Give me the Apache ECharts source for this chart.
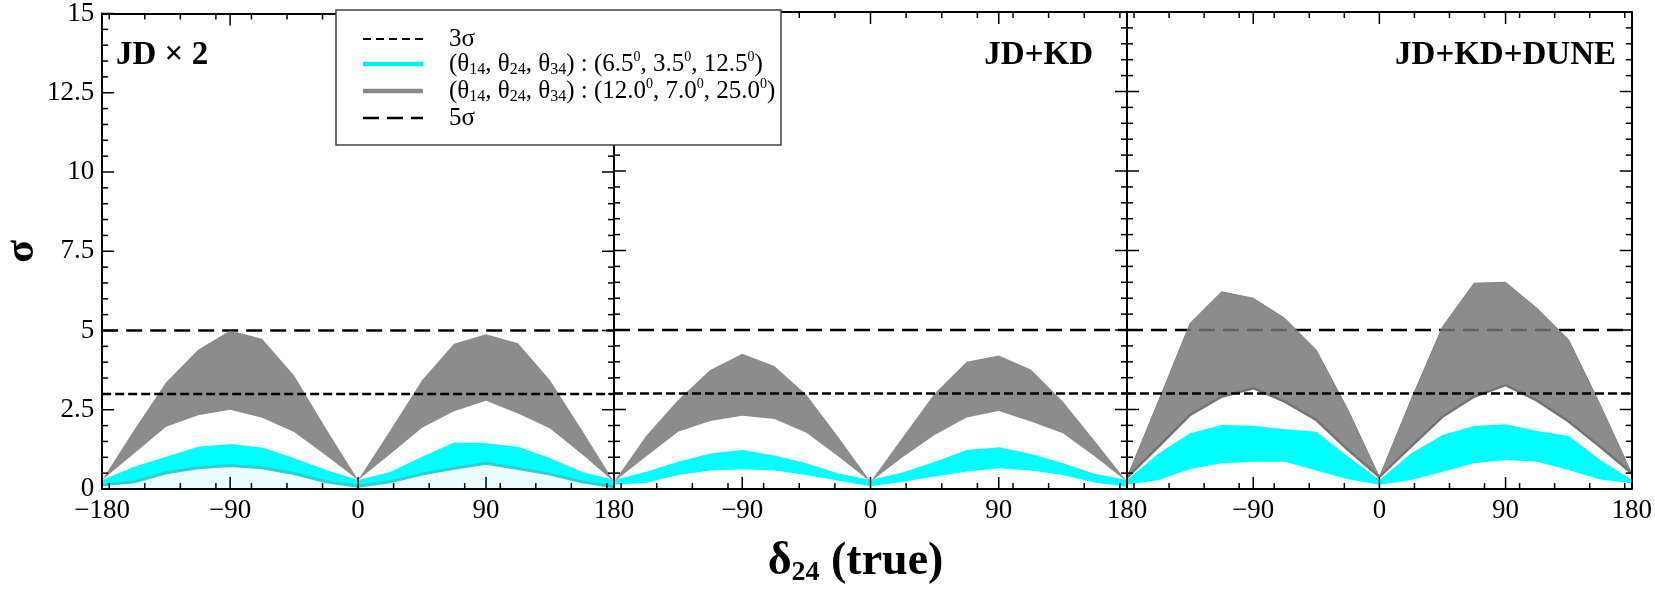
<!DOCTYPE html>
<html>
<head>
<meta charset="utf-8">
<script src="https://cdn.jsdelivr.net/npm/echarts@6/dist/echarts.min.js"></script>
<style>
  html, body { margin: 0; background: #fff; }
  #main { width: 1655px; height: 592px; }
</style>
</head>
<body>
<div id="main"></div>
<script>
const FONT = "'Liberation Serif', 'Times New Roman', serif"

// true delta_24 grid (degrees)
const delta = [-180, -157.5, -135, -112.5, -90, -67.5, -45, -22.5, 0, 22.5, 45, 67.5, 90, 112.5, 135, 157.5, 180]

// JD x 2
const jd2GrayHi = [0.28, 1.86, 3.37, 4.39, 5.0, 4.74, 3.58, 1.9, 0.28, 1.84, 3.43, 4.58, 4.88, 4.6, 3.43, 1.85, 0.23]
const jd2GrayLo = [0.28, 1.12, 1.96, 2.33, 2.5, 2.25, 1.8, 1.06, 0.28, 1.1, 1.93, 2.45, 2.78, 2.38, 1.91, 1.1, 0.23]
const jd2CyanHi = [0.28, 0.7, 1.02, 1.33, 1.42, 1.31, 0.97, 0.6, 0.28, 0.54, 1.02, 1.47, 1.44, 1.33, 0.97, 0.54, 0.28]
const jd2CyanLo = [0.13, 0.23, 0.51, 0.67, 0.74, 0.67, 0.49, 0.23, 0.09, 0.23, 0.47, 0.65, 0.81, 0.65, 0.47, 0.23, 0.07]

// JD+KD
const jdkdGrayHi = [0.23, 1.67, 2.8, 3.74, 4.25, 3.87, 2.96, 1.63, 0.23, 1.62, 3.0, 4.0, 4.2, 3.76, 2.75, 1.5, 0.23]
const jdkdGrayLo = [0.23, 1.02, 1.8, 2.14, 2.3, 2.2, 1.77, 1.02, 0.23, 1.0, 1.7, 2.25, 2.45, 2.12, 1.75, 1.02, 0.23]
const jdkdCyanHi = [0.28, 0.54, 0.86, 1.12, 1.23, 1.05, 0.81, 0.49, 0.28, 0.52, 0.86, 1.23, 1.31, 1.1, 0.81, 0.47, 0.28]
const jdkdCyanLo = [0.13, 0.2, 0.44, 0.58, 0.62, 0.58, 0.44, 0.26, 0.09, 0.23, 0.39, 0.55, 0.65, 0.58, 0.44, 0.2, 0.07]

// JD+KD+DUNE
const duneGrayHi = [0.36, 2.77, 5.21, 6.2, 6.0, 5.37, 4.37, 2.5, 0.38, 2.8, 5.1, 6.47, 6.5, 5.68, 4.69, 2.65, 0.49]
const duneGrayLo = [0.36, 1.33, 2.33, 2.9, 3.17, 2.75, 2.17, 1.23, 0.38, 1.33, 2.27, 2.9, 3.27, 2.78, 2.12, 1.33, 0.49]
const duneCyanHi = [0.28, 1.12, 1.75, 2.01, 1.99, 1.88, 1.8, 1.02, 0.28, 1.12, 1.7, 1.98, 2.04, 1.82, 1.67, 0.91, 0.28]
const duneCyanLo = [0.13, 0.28, 0.63, 0.81, 0.86, 0.86, 0.58, 0.31, 0.13, 0.28, 0.54, 0.81, 0.91, 0.86, 0.6, 0.3, 0.18]

const sigmaLevels = [3, 5]
const xMajorTicks = [-180, -90, 0, 90, 180]
const xMinorTicks = [-175, -150, -125, -100, -75, -50, -25, 25, 50, 75, 100, 125, 150, 175]
const yMax = 15
const yMajorStep = 2.5
const yMinorStep = 0.5
const panelTitles = ['JD × 2', 'JD+KD', 'JD+KD+DUNE']
const legendLabels = [
  '{t|3σ}',
  '{t|(θ}{s|14}{t|, θ}{s|24}{t|, θ}{s|34}{t|) : (6.5}{p|0}{t|, 3.5}{p|0}{t|, 12.5}{p|0}{t|)}',
  '{t|(θ}{s|14}{t|, θ}{s|24}{t|, θ}{s|34}{t|) : (12.0}{p|0}{t|, 7.0}{p|0}{t|, 25.0}{p|0}{t|)}',
  '{t|5σ}'
]

const panelData = [
  { grayHi: jd2GrayHi, grayLo: jd2GrayLo, cyanHi: jd2CyanHi, cyanLo: jd2CyanLo },
  { grayHi: jdkdGrayHi, grayLo: jdkdGrayLo, cyanHi: jdkdCyanHi, cyanLo: jdkdCyanLo },
  { grayHi: duneGrayHi, grayLo: duneGrayLo, cyanHi: duneCyanHi, cyanLo: duneCyanLo }
]

// layout
const panels = [
  { left: 101, width: 513 },
  { left: 614, width: 513 },
  { left: 1127, width: 512 }
]
const TOP = 12
const HEIGHT = 477
const MAJOR_LEN = 12
const MINOR_LEN = 6
const xMin = xMajorTicks[0]
const xMax = xMajorTicks[xMajorTicks.length - 1]

const chart = echarts.init(document.getElementById('main'), null, { renderer: 'canvas' })

const grids = []
const xAxes = []
const yAxes = []
const series = []

const fmtX = v => (v < 0 ? '\u2212' + Math.abs(v) : String(v))
const axisLine = () => ({ show: true, onZero: false, lineStyle: { color: '#000', width: 2 } })

panels.forEach((pn, p) => {
  grids.push({ left: pn.left, top: TOP, width: pn.width, height: HEIGHT })

  xAxes.push({
    gridIndex: p, type: 'value', min: xMin, max: xMax, interval: 90, position: 'bottom', z: 10,
    axisLine: axisLine(), splitLine: { show: false }, axisTick: { show: false },
    axisLabel: {
      color: '#000', fontFamily: FONT, fontSize: 27, margin: 8, formatter: fmtX,
      showMinLabel: p === 0, showMaxLabel: true
    },
    name: p === 1 ? '{d|δ}{s|24}{d| (true)}' : '',
    nameLocation: 'middle', nameGap: 48,
    nameTextStyle: {
      padding: [0, 30, 0, 0],
      rich: {
        d: { fontFamily: FONT, fontSize: 46, fontWeight: 'bold', color: '#000', lineHeight: 50, verticalAlign: 'middle' },
        s: { fontFamily: FONT, fontSize: 28, fontWeight: 'bold', color: '#000', lineHeight: 26, verticalAlign: 'bottom' }
      }
    }
  })
  xAxes.push({
    gridIndex: p, type: 'value', min: xMin, max: xMax, interval: 90, position: 'top', z: 10,
    axisLine: axisLine(), splitLine: { show: false }, axisLabel: { show: false }, axisTick: { show: false }
  })
  yAxes.push({
    gridIndex: p, type: 'value', min: 0, max: yMax, interval: yMajorStep, position: 'left', z: 10,
    axisLine: axisLine(), splitLine: { show: false }, axisTick: { show: false },
    axisLabel: { show: p === 0, color: '#000', fontFamily: FONT, fontSize: 27, margin: 8 },
    name: p === 0 ? 'σ' : '',
    nameLocation: 'middle', nameGap: 58, nameRotate: 90,
    nameTextStyle: { fontFamily: FONT, fontSize: 42, fontWeight: 'bold', color: '#000' }
  })
  yAxes.push({
    gridIndex: p, type: 'value', min: 0, max: yMax, interval: yMajorStep, position: 'right', z: 10,
    axisLine: axisLine(), splitLine: { show: false }, axisLabel: { show: false }, axisTick: { show: false }
  })

  const xi = 2 * p
  const yi = 2 * p
  const d = panelData[p]

  // 5 sigma line (under the grey band)
  series.push({
    type: 'line', name: '5σ', xAxisIndex: xi, yAxisIndex: yi, z: 1, silent: true,
    symbol: 'none', animation: false,
    data: [[xMin, sigmaLevels[1]], [xMax, sigmaLevels[1]]],
    lineStyle: { color: '#000', width: 2.5, type: [16, 8] }
  })

  const band = (lo, hi, fill, z, extra) => ({
    type: 'custom', xAxisIndex: xi, yAxisIndex: yi, z, silent: true, clip: true, animation: false,
    data: delta.map((x, i) => [x, lo[i], hi[i]]),
    encode: { x: 0, y: [1, 2] },
    renderItem(params, api) {
      if (params.dataIndexInside !== 0) return
      const top = []
      const bot = []
      for (let i = 0; i < delta.length; i++) {
        top.push(api.coord([api.value(0, i), api.value(2, i)]))
        bot.push(api.coord([api.value(0, i), api.value(1, i)]))
      }
      const children = []
      if (extra && extra.under) {
        const base = [api.coord([xMax, 0]), api.coord([xMin, 0])]
        children.push({ type: 'polygon', shape: { points: bot.concat(base) }, style: { fill: extra.under } })
      }
      children.push({ type: 'polygon', shape: { points: top.concat(bot.slice().reverse()) }, style: { fill } })
      if (extra && extra.lowEdge) {
        children.push({ type: 'polyline', shape: { points: bot }, style: { fill: null, stroke: extra.lowEdge, lineWidth: extra.lowWidth || 2 } })
      }
      if (extra && extra.highEdge) {
        children.push({ type: 'polyline', shape: { points: top }, style: { fill: null, stroke: extra.highEdge, lineWidth: 1 } })
      }
      return { type: 'group', children }
    }
  })

  series.push(band(d.grayLo, d.grayHi, 'rgba(118,118,118,0.84)', 2,
    p === 2 ? { lowEdge: '#747474', lowWidth: 2.5, highEdge: '#808080' } : null))

  // 3 sigma line (over the grey band)
  series.push({
    type: 'line', name: '3σ', xAxisIndex: xi, yAxisIndex: yi, z: 3, silent: true,
    symbol: 'none', animation: false,
    data: [[xMin, sigmaLevels[0]], [xMax, sigmaLevels[0]]],
    lineStyle: { color: '#000', width: 2.5, type: [9, 4] }
  })

  series.push(band(d.cyanLo, d.cyanHi, '#00ffff', 4,
    p === 0 ? { under: '#eafcfc', lowEdge: '#2fcfcf', lowWidth: 3 } : null))
})

chart.setOption({
  backgroundColor: '#fff',
  animation: false,
  grid: grids,
  xAxis: xAxes,
  yAxis: yAxes,
  series
})

// legend box drawn by hand: line samples + labels
const legendStyles = [
  { stroke: '#000', lineWidth: 2, lineDash: [8, 5] },
  { stroke: '#00f0f0', lineWidth: 4.5 },
  { stroke: '#8a8a8a', lineWidth: 4.5 },
  { stroke: '#000', lineWidth: 2.5, lineDash: [16, 8] }
]
const legendRich = {
  t: { fontFamily: FONT, fontSize: 25, color: '#000', lineHeight: 28, verticalAlign: 'middle' },
  s: { fontFamily: FONT, fontSize: 16, color: '#000', lineHeight: 16, verticalAlign: 'bottom' },
  p: { fontFamily: FONT, fontSize: 14, color: '#000', lineHeight: 14, verticalAlign: 'top' }
}
const legendRowsY = [39, 64, 91, 118]
const graphic = []

// inward ticks on all four sides of each panel, placed with the panel's own scales
const tickStyle = { stroke: '#000', lineWidth: 1.5 }
const seg = (a, b) => graphic.push({ type: 'line', z: 20, silent: true, shape: { x1: a[0], y1: a[1], x2: b[0], y2: b[1] }, style: tickStyle })
panels.forEach((pn, p) => {
  const px = pt => chart.convertToPixel({ gridIndex: p }, pt)
  for (let k = 0; k * yMinorStep <= yMax + 1e-9; k++) {
    const v = k * yMinorStep
    const len = (k % Math.round(yMajorStep / yMinorStep) === 0) ? MAJOR_LEN : MINOR_LEN
    const l = px([xMin, v])
    const r = px([xMax, v])
    seg(l, [l[0] + len, l[1]])
    seg(r, [r[0] - len, r[1]])
  }
  xMajorTicks.map(v => [v, MAJOR_LEN]).concat(xMinorTicks.map(v => [v, MINOR_LEN])).forEach(([v, len]) => {
    const b = px([v, 0])
    const t = px([v, yMax])
    seg(b, [b[0], b[1] - len])
    seg(t, [t[0], t[1] + len])
  })
})

graphic.push({ type: 'rect', z: 100, shape: { x: 336, y: 10, width: 445, height: 135 }, style: { fill: '#fff', stroke: '#444', lineWidth: 1.5 } })
legendLabels.forEach((lab, i) => {
  const y = legendRowsY[i]
  graphic.push({ type: 'line', z: 101, shape: { x1: 363, y1: y, x2: 423, y2: y }, style: legendStyles[i] })
  graphic.push({ type: 'text', z: 101, x: 449, y, style: { text: lab, rich: legendRich, verticalAlign: 'middle', align: 'left' } })
})

const titlePos = [
  { x: 116, align: 'left' },
  { x: 1093, align: 'right' },
  { x: 1616, align: 'right' }
]
panelTitles.forEach((t, i) => {
  graphic.push({
    type: 'text', z: 50, x: titlePos[i].x, y: 55,
    style: { text: t, fontFamily: FONT, fontSize: 33, fontWeight: 'bold', fill: '#000', align: titlePos[i].align, verticalAlign: 'middle' }
  })
})

chart.setOption({ graphic })
</script>
</body>
</html>
